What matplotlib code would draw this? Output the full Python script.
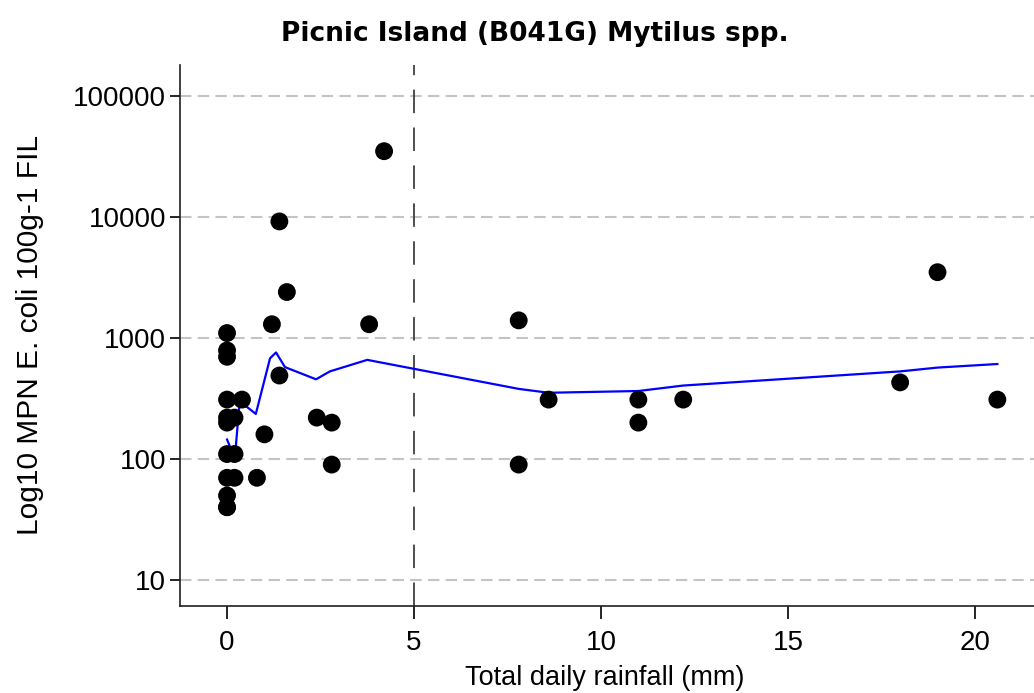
import numpy as np
import matplotlib
matplotlib.use("Agg")
import matplotlib.pyplot as plt

plt.rcParams['font.family'] = ['Liberation Sans', 'DejaVu Sans']

# observed samples: rainfall (mm) and E. coli MPN per 100 g
rain = [0, 0, 0, 0, 0, 0, 0, 0, 0, 0, 0,
        0.2, 0.2, 0.2, 0.4, 0.8, 1.0, 1.2, 1.4, 1.4, 1.6,
        2.4, 2.8, 2.8, 3.8, 4.2, 7.8, 7.8, 8.6, 11.0, 11.0,
        12.2, 18.0, 19.0, 20.6]
ecoli = [1100, 790, 700, 310, 220, 200, 110, 70, 50, 40, 40,
         220, 110, 70, 310, 70, 160, 1300, 9200, 490, 2400,
         220, 200, 90, 1300, 35000, 1400, 90, 310, 310, 200,
         310, 430, 3500, 310]

# smoothed trend line
smooth_x = [0, 0.12, 0.22, 0.33, 0.53, 0.77, 1.15, 1.31, 1.55, 2.38, 2.75,
            3.75, 7.8, 8.6, 11.0, 12.2, 18.0, 19.0, 20.6]
smooth_y = [145, 118, 112, 280, 270, 236, 680, 760, 575, 456, 530,
            660, 380, 353, 365, 405, 530, 570, 610]

yticks = [10, 100, 1000, 10000, 100000]
xticks = [0, 5, 10, 15, 20]
threshold = 5

fig = plt.figure(figsize=(10.34, 6.93), dpi=100)
ax = fig.add_axes([0.174, 0.1255, 0.826, 0.7805])

for t in yticks:
    ax.axhline(t, color='#c4c4c4', lw=1.5, ls=(0, (5.5, 3)), zorder=1)
ax.axvline(threshold, color='#404040', lw=1.3, ls=(0, (13, 8)), zorder=2)

ax.plot(smooth_x, smooth_y, color='#0000ff', lw=1.6, zorder=3)
ax.scatter(rain, ecoli, s=165, color='black', edgecolors='none', zorder=4)

ax.set_yscale('log')
ax.set_ylim(6.1, 180000)
ax.set_xlim(-1.26, 21.58)
ax.set_yticks(yticks)
ax.set_yticklabels([str(t) for t in yticks])
ax.minorticks_off()
ax.set_xticks(xticks)

for s in ['top', 'right']:
    ax.spines[s].set_visible(False)
ax.spines['left'].set_color('#202020')
ax.spines['bottom'].set_color('#202020')
ax.spines['left'].set_linewidth(1.2)
ax.spines['bottom'].set_linewidth(1.2)
ax.tick_params(axis='y', length=7, width=1.2, labelsize=20, pad=3)
ax.tick_params(axis='x', length=9, width=1.2, labelsize=20, pad=8)

fig.text(0.517, 0.951, 'Picnic Island (B041G) Mytilus spp.', ha='center', va='center',
         fontsize=19, fontweight='bold', family=['DejaVu Sans'])
fig.text(0.585, 0.022, 'Total daily rainfall (mm)', ha='center', va='center', fontsize=19.5)
fig.text(0.029, 0.516, 'Log10 MPN E. coli 100g-1 FIL', ha='center', va='center',
         rotation=90, fontsize=21.5)

fig.savefig('out.png', dpi=100)
